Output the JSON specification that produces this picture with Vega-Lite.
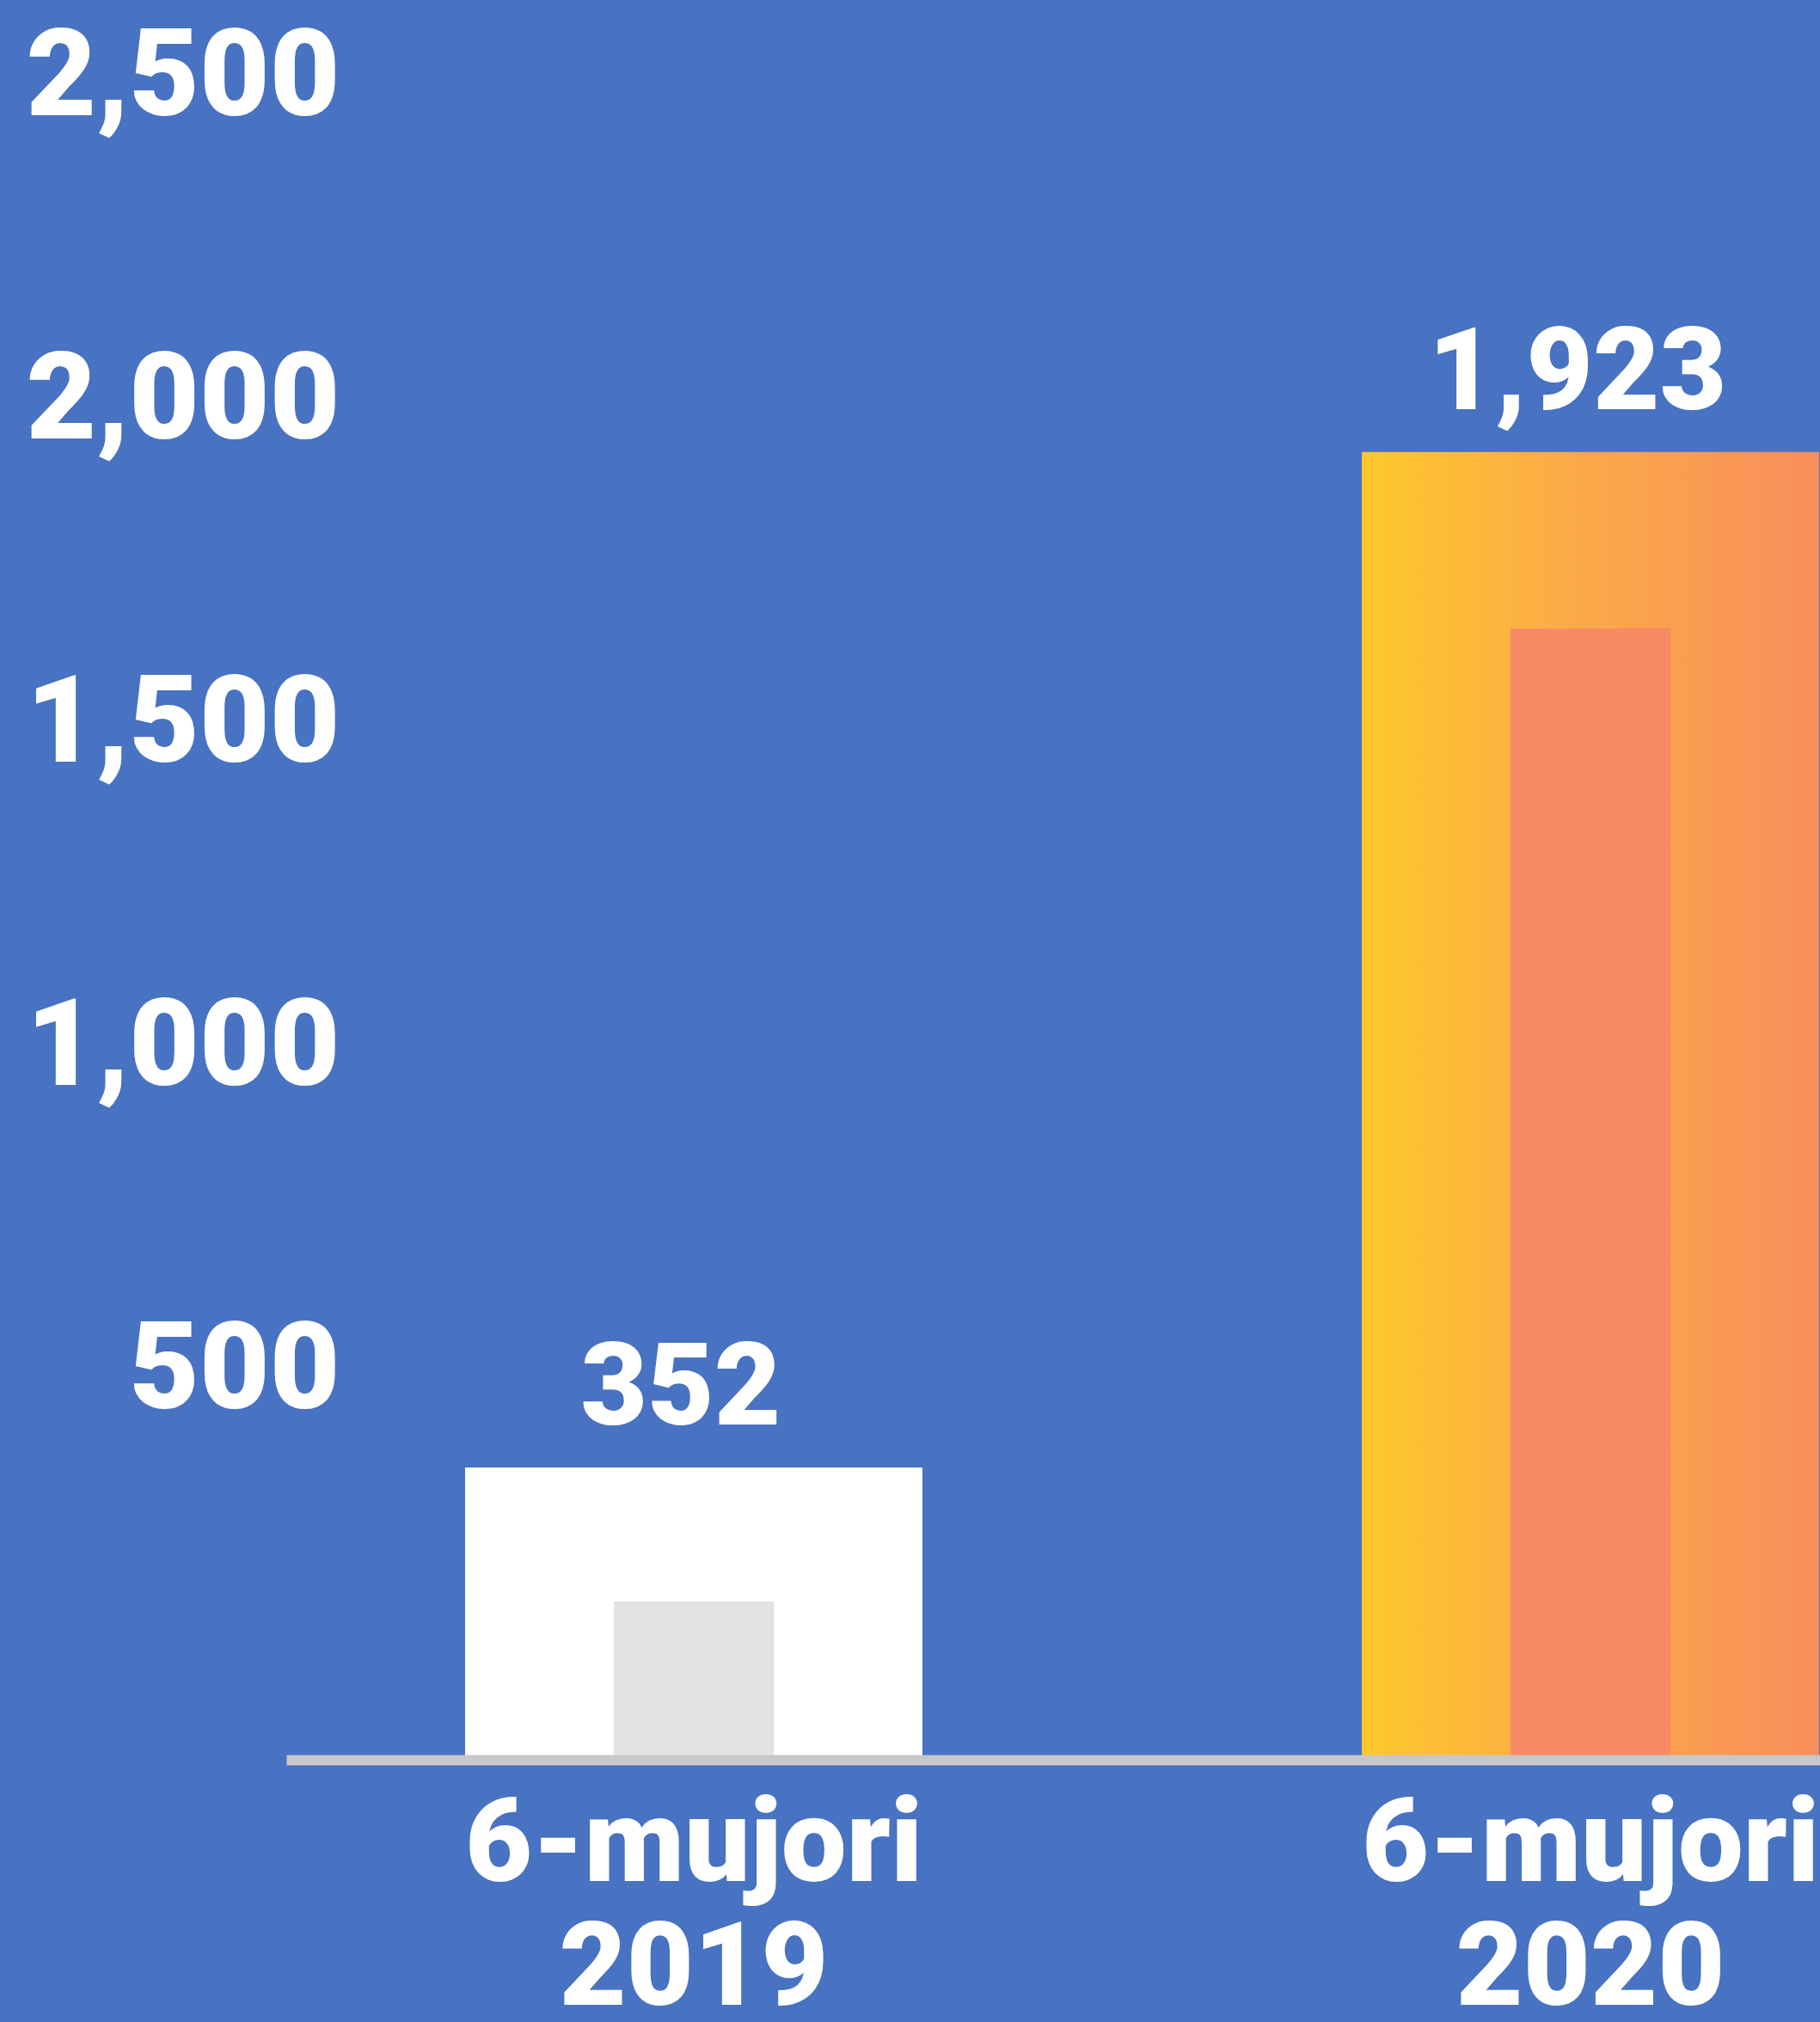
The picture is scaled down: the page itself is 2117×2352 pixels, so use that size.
{
  "$schema": "https://vega.github.io/schema/vega-lite/v6.json",
  "width": 1784,
  "height": 2047,
  "autosize": {"type": "none"},
  "padding": {"left": 333, "top": 0, "right": 0, "bottom": 305},
  "background": "#4872c2",
  "config": {"view": {"stroke": null}, "font": "Roboto"},
  "data": {
    "values": [
      {"period": "6-mujori 2019", "total": 352, "part": 145},
      {"period": "6-mujori 2020", "total": 1923, "part": 1650}
    ]
  },
  "encoding": {
    "x": {
      "field": "period",
      "type": "nominal",
      "sort": null,
      "scale": {"paddingInner": 0.49, "paddingOuter": 0.1002, "align": 0.995},
      "axis": {
        "title": null,
        "labelExpr": "split(datum.label, ' ')",
        "labelAngle": 0,
        "labelFont": "Roboto",
        "labelFontSize": 135,
        "labelFontWeight": 900,
        "labelColor": "#ffffff",
        "labelLineHeight": 144,
        "labelPadding": 33,
        "labelLimit": 0,
        "labelBaseline": "top",
        "labelOverlap": false,
        "ticks": false,
        "tickSize": 0,
        "domainColor": "#c8c8c8",
        "domainWidth": 12,
        "zindex": 1
      }
    }
  },
  "layer": [
    {
      "transform": [{"filter": "datum.period == '6-mujori 2019'"}],
      "mark": {"type": "bar", "fill": "#ffffff"},
      "encoding": {
        "y": {
          "field": "total",
          "type": "quantitative",
          "scale": {"domain": [-100, 2622], "nice": false, "zero": false},
          "axis": {
            "values": [500, 1000, 1500, 2000, 2500],
            "format": ",.0f",
            "title": null,
            "domain": false,
            "ticks": false,
            "tickSize": 0,
            "grid": false,
            "labelPadding": -62,
            "labelFont": "Roboto",
            "labelFontSize": 141,
            "labelFontWeight": 900,
            "labelColor": "#ffffff",
            "labelAlign": "right",
            "labelBaseline": "middle",
            "labelLimit": 0,
            "labelOverlap": false
          }
        },
        "y2": {"datum": -100}
      }
    },
    {
      "transform": [{"filter": "datum.period == '6-mujori 2020'"}],
      "mark": {
        "type": "bar",
        "fill": {
          "gradient": "linear",
          "x1": 0, "x2": 1, "y1": 0, "y2": 0,
          "stops": [
            {"offset": 0, "color": "#fec82c"},
            {"offset": 0.5, "color": "#fba84a"},
            {"offset": 1, "color": "#f78e5c"}
          ]
        }
      },
      "encoding": {
        "y": {"field": "total", "type": "quantitative"},
        "y2": {"datum": -100}
      }
    },
    {
      "mark": {"type": "bar", "width": {"band": 0.35}},
      "encoding": {
        "y": {"field": "part", "type": "quantitative"},
        "y2": {"datum": -100},
        "fill": {
          "field": "period",
          "type": "nominal",
          "scale": {"range": ["#e3e3e3", "#f88a65"]},
          "legend": null
        }
      }
    },
    {
      "mark": {
        "type": "text",
        "font": "Roboto",
        "fontSize": 134,
        "fontWeight": 900,
        "color": "#ffffff",
        "baseline": "alphabetic",
        "align": "center",
        "dx": -15,
        "dy": -50
      },
      "encoding": {
        "y": {"field": "total", "type": "quantitative"},
        "text": {"field": "total", "type": "quantitative", "format": ","}
      }
    }
  ]
}
